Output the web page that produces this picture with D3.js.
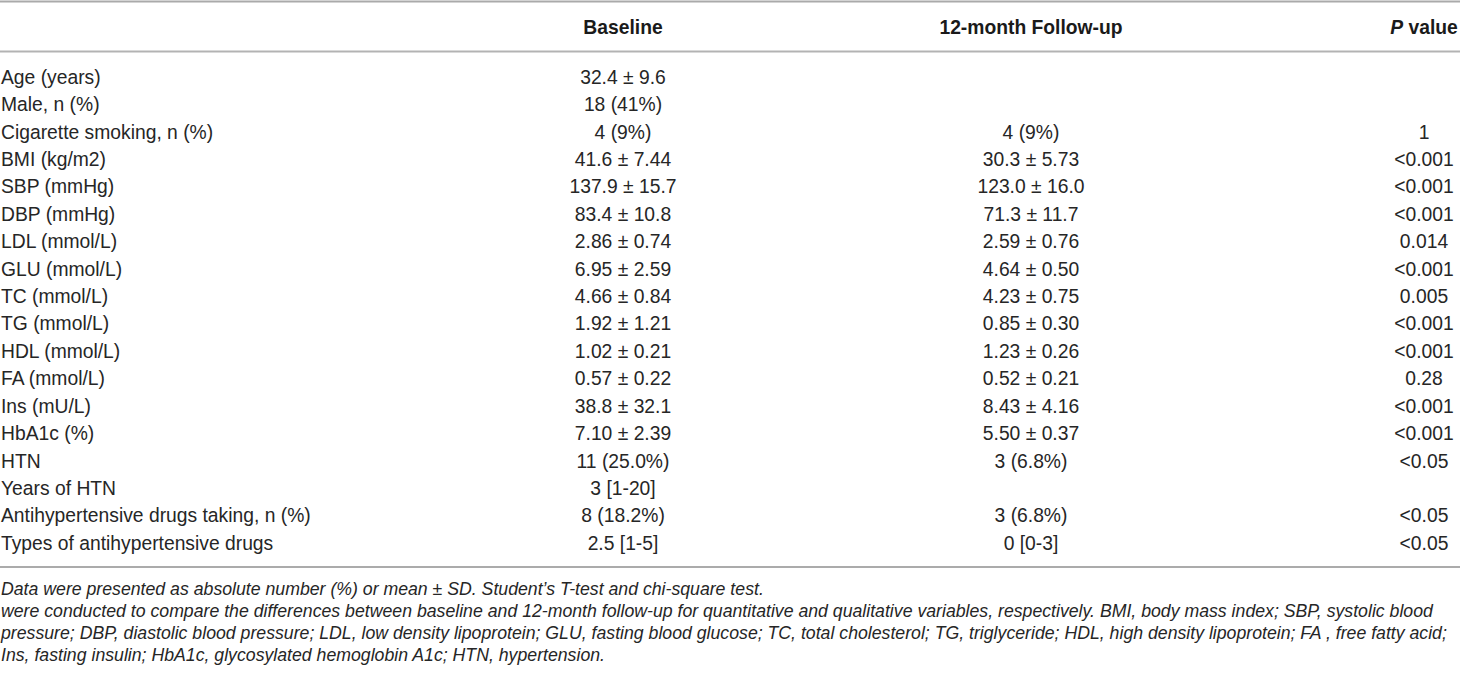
<!DOCTYPE html>
<html>
<head>
<meta charset="utf-8">
<script src="https://cdn.jsdelivr.net/npm/d3@7"></script>
<style>
  html, body { margin: 0; padding: 0; background: #fff; }
  svg text { font-family: "Liberation Sans", Arial, Helvetica, sans-serif; fill: #262626; }
</style>
</head>
<body>
<div id="table"></div>
<script>
// table content
var variables = ["Age (years)", "Male, n (%)", "Cigarette smoking, n (%)", "BMI (kg/m2)", "SBP (mmHg)",
  "DBP (mmHg)", "LDL (mmol/L)", "GLU (mmol/L)", "TC (mmol/L)", "TG (mmol/L)", "HDL (mmol/L)",
  "FA (mmol/L)", "Ins (mU/L)", "HbA1c (%)", "HTN", "Years of HTN",
  "Antihypertensive drugs taking, n (%)", "Types of antihypertensive drugs"];
var baseline = ["32.4 ± 9.6", "18 (41%)", "4 (9%)", "41.6 ± 7.44", "137.9 ± 15.7", "83.4 ± 10.8",
  "2.86 ± 0.74", "6.95 ± 2.59", "4.66 ± 0.84", "1.92 ± 1.21", "1.02 ± 0.21", "0.57 ± 0.22",
  "38.8 ± 32.1", "7.10 ± 2.39", "11 (25.0%)", "3 [1-20]", "8 (18.2%)", "2.5 [1-5]"];
var followUp = ["", "", "4 (9%)", "30.3 ± 5.73", "123.0 ± 16.0", "71.3 ± 11.7", "2.59 ± 0.76",
  "4.64 ± 0.50", "4.23 ± 0.75", "0.85 ± 0.30", "1.23 ± 0.26", "0.52 ± 0.21", "8.43 ± 4.16",
  "5.50 ± 0.37", "3 (6.8%)", "", "3 (6.8%)", "0 [0-3]"];
var pValues = ["", "", "1", "<0.001", "<0.001", "<0.001", "0.014", "<0.001", "0.005", "<0.001",
  "<0.001", "0.28", "<0.001", "<0.001", "<0.05", "", "<0.05", "<0.05"];
var columns = ["Baseline", "12-month Follow-up", "P value"];
var footnotes = [
  "Data were presented as absolute number (%) or mean ± SD. Student’s T-test and chi-square test.",
  "were conducted to compare the differences between baseline and 12-month follow-up for quantitative and qualitative variables, respectively. BMI, body mass index; SBP, systolic blood",
  "pressure; DBP, diastolic blood pressure; LDL, low density lipoprotein; GLU, fasting blood glucose; TC, total cholesterol; TG, triglyceride; HDL, high density lipoprotein; FA , free fatty acid;",
  "Ins, fasting insulin; HbA1c, glycosylated hemoglobin A1c; HTN, hypertension."
];

var width = 1460, height = 676;
var bodySize = "19.3px", footSize = "17.7px";

var svg = d3.select("#table").append("svg")
  .attr("width", width)
  .attr("height", height);

// row + column positions
var y = d3.scalePoint().domain(d3.range(variables.length)).range([77, 543]);
var x = d3.scaleOrdinal().domain(columns).range([623, 1031, 1424]);
var fy = d3.scalePoint().domain(d3.range(footnotes.length)).range([589, 655]);

// rules
var rules = [{ y: 1.5, w: 2, c: "#aaaaaa" }, { y: 51.5, w: 2, c: "#b3b3b3" }, { y: 567, w: 1.3, c: "#8f8f8f" }];
svg.selectAll("line.rule").data(rules).enter().append("line")
  .attr("class", "rule")
  .attr("x1", 0).attr("x2", width)
  .attr("y1", function(d) { return d.y; }).attr("y2", function(d) { return d.y; })
  .attr("stroke", function(d) { return d.c; })
  .attr("stroke-width", function(d) { return d.w; });

// header
var head = svg.selectAll("text.head").data(columns).enter().append("text")
  .attr("class", "head")
  .attr("x", function(d) { return x(d); })
  .attr("y", 27)
  .attr("dy", "0.35em")
  .attr("text-anchor", "middle")
  .style("font-size", bodySize)
  .style("font-weight", "bold")
  .style("fill", "#1a1a1a");
head.each(function(d) {
  var t = d3.select(this);
  if (d === "P value") {
    t.append("tspan").style("font-style", "italic").text("P");
    t.append("tspan").text(" value");
  } else {
    t.text(d);
  }
});

// body
var rows = svg.selectAll("g.row").data(variables).enter().append("g")
  .attr("class", "row")
  .attr("transform", function(d, i) { return "translate(0," + y(i) + ")"; });

rows.append("text")
  .attr("x", 1)
  .attr("dy", "0.35em")
  .style("font-size", bodySize)
  .text(function(d) { return d; });

var cellCols = [baseline, followUp, pValues];
cellCols.forEach(function(vals, c) {
  rows.append("text")
    .attr("x", x(columns[c]))
    .attr("dy", "0.35em")
    .attr("text-anchor", "middle")
    .style("font-size", bodySize)
    .text(function(d, i) { return vals[i]; });
});

// footnotes
svg.selectAll("text.foot").data(footnotes).enter().append("text")
  .attr("class", "foot")
  .attr("x", 1)
  .attr("y", function(d, i) { return fy(i); })
  .attr("dy", "0.35em")
  .style("font-size", footSize)
  .style("font-style", "italic")
  .text(function(d) { return d; });
</script>
</body>
</html>
